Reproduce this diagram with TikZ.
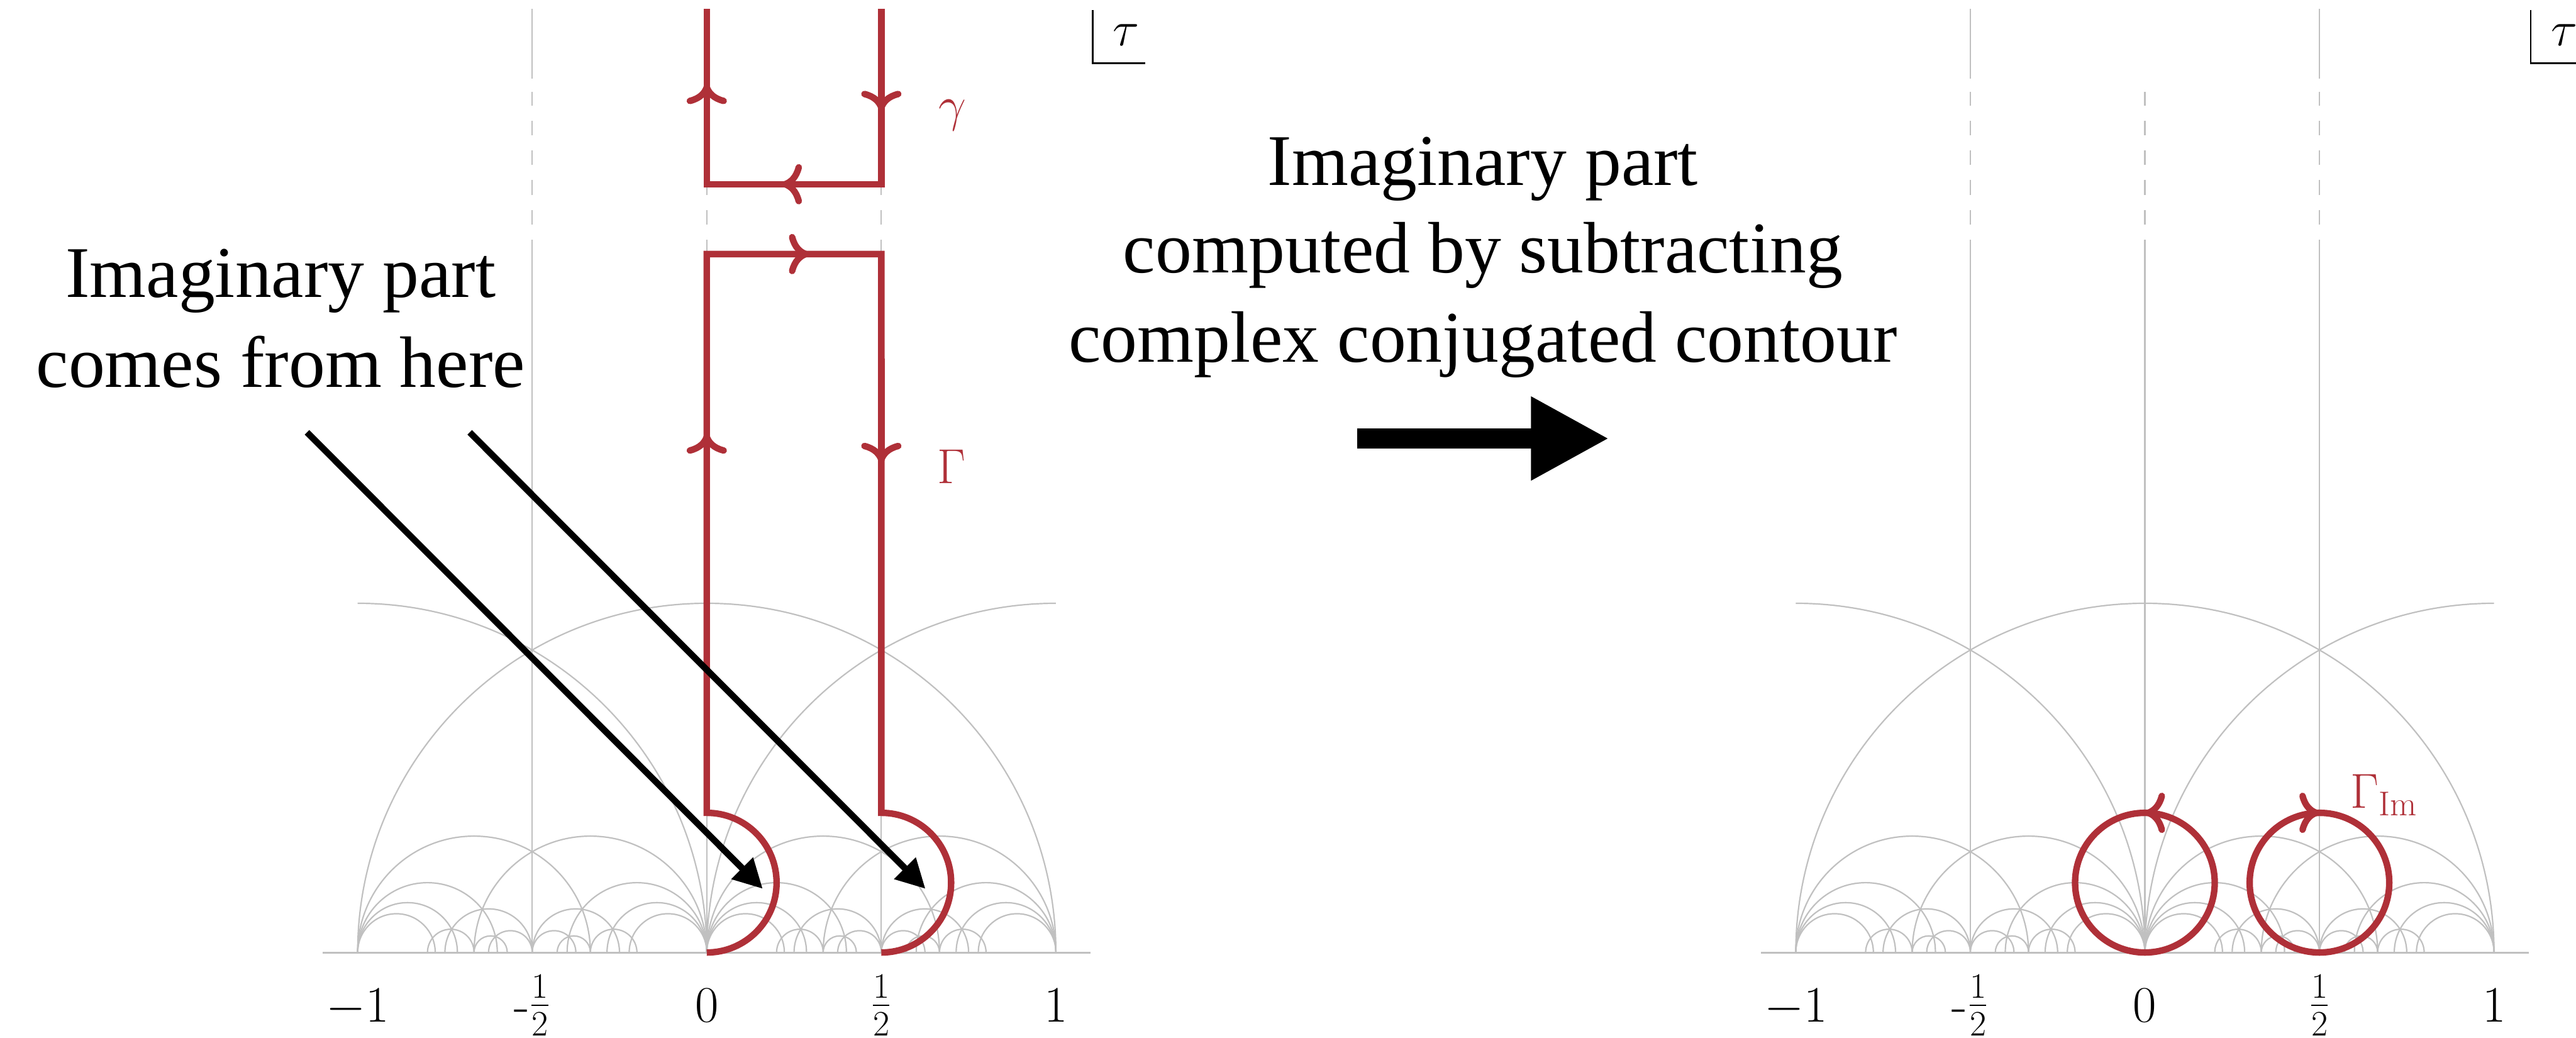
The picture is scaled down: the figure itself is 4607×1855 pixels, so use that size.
\RequirePackage{fix-cm}
\documentclass[tikz,border=0pt]{standalone}
\usepackage{fontspec}
\newfontfamily\annfont{Liberation Serif}
\usetikzlibrary{arrows.meta,decorations.markings}
\definecolor{tessgrey}{RGB}{192,192,192}
\definecolor{contred}{RGB}{175,48,56}
\tikzset{
  cmarrow/.tip={Computer Modern Rightarrow[length=3.6mm,width=7.2mm]},
  geo/.style={draw=tessgrey, line width=0.7pt},
  axisline/.style={draw=tessgrey, line width=1pt},
  redpath/.style={draw=contred, line width=3.3pt, line join=miter},
  blkarrow/.style={draw=black, line width=3.3pt, -{Triangle[length=0.52cm,width=0.52cm]}},
  anntext/.style={font=\annfont\fontsize{37}{45}\selectfont, inner sep=0pt, anchor=base},
  ticklbl/.style={font=\fontsize{26}{30}\selectfont, inner sep=0pt, anchor=base},
  mlabel/.style={text=contred, font=\fontsize{25}{30}\selectfont, inner sep=0pt},
  taulbl/.style={font=\fontsize{25}{30}\selectfont, inner sep=0pt, anchor=base},
}
\newcommand\tessarc[2]{\draw[geo] (#1,0) arc[start angle=180,end angle=0,radius={((#2)-(#1))/2}];}
\newcommand\tessvert[2]{%
  \draw[geo] (#1,0) -- (#1,2.042);
  \draw[geo, dash pattern=on 0.26cm off 0.27cm] (#1,2.085) -- (#1,2.465);
  \ifnum#2=1 \draw[geo] (#1,2.503) -- (#1,2.702);\fi}
\newcommand\halffrac{\raisebox{2pt}{$\frac{1}{2}$}}
\newcommand\tesspanel[1]{%
  \draw[axisline] (-1.1,0) -- (1.1,0);
  \draw[geo] (-1,0) arc[start angle=180,end angle=0,radius=1];
  \draw[geo] (-1,1) arc[start angle=90,end angle=0,radius=1];
  \draw[geo] (1,1) arc[start angle=90,end angle=180,radius=1];
  \tessarc{0}{2/3}\tessarc{-2/3}{0}\tessarc{0}{2/5}\tessarc{-2/5}{0}
  \tessarc{0}{2/7}\tessarc{-2/7}{0}\tessarc{0}{2/9}\tessarc{-2/9}{0}
  \tessarc{-1}{-1/3}\tessarc{-1}{-3/5}\tessarc{-1}{-5/7}\tessarc{-1}{-7/9}
  \tessarc{1/3}{1}\tessarc{3/5}{1}\tessarc{5/7}{1}\tessarc{7/9}{1}
  \tessarc{-3/4}{-1/2}\tessarc{-1/2}{-1/4}\tessarc{-5/8}{-1/2}\tessarc{-1/2}{-3/8}
  \tessarc{1/4}{1/2}\tessarc{1/2}{3/4}\tessarc{3/8}{1/2}\tessarc{1/2}{5/8}
  \tessarc{-1/3}{-1/5}\tessarc{-4/5}{-2/3}\tessarc{1/5}{1/3}\tessarc{2/3}{4/5}
  \tessarc{-2/3}{-4/7}\tessarc{-3/7}{-1/3}\tessarc{4/7}{2/3}\tessarc{1/3}{3/7}
  \tessvert{-0.5}{1}\tessvert{0}{0}\tessvert{0.5}{1}
  \node[ticklbl] (#1m1) at (-1,-0.199) {$-1$};
  \node[ticklbl] (#1mh) at (-0.5,-0.199) {-\halffrac};
  \node[ticklbl] (#1z) at (0,-0.199) {$0$};
  \node[ticklbl] (#1ph) at (0.5,-0.199) {\halffrac};
  \node[ticklbl] (#1p1) at (1,-0.199) {$1$};
}
\begin{document}
\begin{tikzpicture}[x=0.01cm, y=-0.01cm]
\useasboundingbox (0,0) rectangle (4607,1855);
% ---------- left panel ----------
\begin{scope}[shift={(1264,1703)}, x=6.24cm, y=6.24cm]
  \tesspanel{L}
  \draw[redpath] (0,0) arc[start angle=-90,end angle=90,radius=0.2] -- (0,2) -- (0.5,2) -- (0.5,0.4) arc[start angle=90,end angle=-90,radius=0.2];
  \draw[redpath] (0.5,2.702) -- (0.5,2.2) -- (0,2.2) -- (0,2.702);
  \draw[redpath,-{cmarrow}] (0,2.3) -- (0,2.487);
  \draw[redpath,-{cmarrow}] (0.5,2.6) -- (0.5,2.41);
  \draw[redpath,-{cmarrow}] (0.45,2.2) -- (0.215,2.2);
  \draw[redpath,-{cmarrow}] (0,1.2) -- (0,1.486);
  \draw[redpath,-{cmarrow}] (0.5,1.7) -- (0.5,1.402);
  \draw[redpath,-{cmarrow}] (0.05,2) -- (0.293,2);
\end{scope}
\node[mlabel, anchor=base] (gammalbl) at (1703,217) {$\gamma$};
\node[mlabel, anchor=base] (Gammalbl) at (1702,864) {$\Gamma$};
\node[taulbl] (tauL) at (2014,82) {$\tau$};
\draw[line width=0.85pt] (1954,18) -- (1954,113) -- (2048,113);
% ---------- right panel ----------
\begin{scope}[shift={(3836,1703)}, x=6.24cm, y=6.24cm]
  \tesspanel{R}
  \draw[redpath, postaction={decorate}, decoration={markings, mark=at position 1 with {\arrow{cmarrow}}}] (0,0.4) arc[start angle=90,end angle=450,radius=0.2];
  \draw[redpath, postaction={decorate}, decoration={markings, mark=at position 1 with {\arrow{cmarrow}}}] (0.5,0.4) arc[start angle=90,end angle=-270,radius=0.2];
\end{scope}
\node[mlabel, anchor=base west] (GammaIm) at (4203,1445) {$\Gamma_{\mathrm{Im}}$};
\node[taulbl] (tauR) at (4586,82) {$\tau$};
\draw[line width=0.85pt] (4526,18) -- (4526,113) -- (4620,113);
% ---------- annotations ----------
\node[anntext] (leftA) at (502,532) {Imaginary part};
\node[anntext] (leftB) at (502,692) {comes from here};
\node[anntext] (rightA) at (2652,331) {Imaginary part};
\node[anntext] (rightB) at (2652,488) {computed by subtracting};
\node[anntext] (rightC) at (2652,647) {complex conjugated contour};
\coordinate (p1s) at (549,773);
\coordinate (p1e) at (1364,1589);
\coordinate (p2s) at (840,773);
\coordinate (p2e) at (1655,1589);
\draw[blkarrow] (p1s) -- (p1e);
\draw[blkarrow] (p2s) -- (p2e);
\coordinate (bigs) at (2427,784);
\coordinate (bige) at (2878,784);
\draw[line width=0.36cm, -{Triangle[length=1.4cm,width=1.4cm]}] (bigs) -- (bige);
\end{tikzpicture}
\end{document}
